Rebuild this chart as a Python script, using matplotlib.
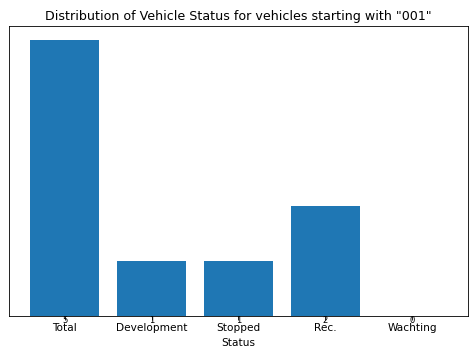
import matplotlib
matplotlib.use("Agg")
import matplotlib.pyplot as plt

# Data
statuses = ["Total", "Development", "Stopped", "Rec.", "Wachting"]
counts = [5, 1, 1, 2, 0]

DPI = 76
fig, ax = plt.subplots(figsize=(474 / DPI, 349 / DPI), dpi=DPI)
fig.subplots_adjust(left=0.019, right=0.987, top=0.9255, bottom=0.0946)

ax.bar(statuses, counts)

# count labels at the base of each bar
for i, c in enumerate(counts):
    ax.text(i, 0, str(c), ha="center", va="top", fontsize=8)

ax.set_title('Distribution of Vehicle Status for vehicles starting with "001"')
ax.set_xlabel("Status")
ax.set_yticks([])

fig.savefig("out.png", dpi=DPI)
